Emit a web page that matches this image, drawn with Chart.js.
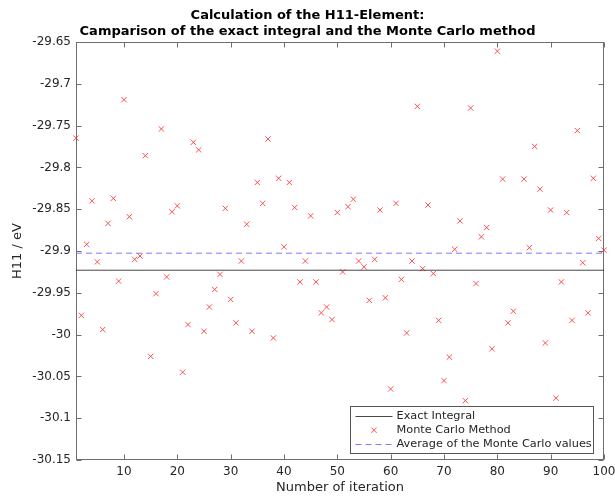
<!DOCTYPE html>
<html>
<head>
<meta charset="utf-8">
<script src="https://cdn.jsdelivr.net/npm/chart.js@4"></script>
<style>
  html, body { margin: 0; padding: 0; background: #fff; }
  #wrap { width: 615px; height: 500px; }
</style>
</head>
<body>
<div id="wrap"><canvas id="h11Chart" width="615" height="500"></canvas></div>
<script>
// values
const iterations = Array.from({ length: 100 }, (_, i) => i + 1);
const mcValues = [
  -29.765, -29.977, -29.892, -29.840, -29.913, -29.994, -29.867, -29.837, -29.936, -29.719,
  -29.859, -29.910, -29.906, -29.786, -30.026, -29.951, -29.754, -29.931, -29.853, -29.846,
  -30.045, -29.988, -29.770, -29.779, -29.996, -29.967, -29.946, -29.928, -29.849, -29.958,
  -29.986, -29.912, -29.868, -29.996, -29.818, -29.843, -29.766, -30.004, -29.813, -29.895,
  -29.818, -29.848, -29.937, -29.912, -29.858, -29.937, -29.974, -29.967, -29.982, -29.854,
  -29.925, -29.847, -29.838, -29.912, -29.919, -29.959, -29.910, -29.851, -29.956, -30.065,
  -29.843, -29.934, -29.998, -29.912, -29.727, -29.921, -29.845, -29.927, -29.983, -30.055,
  -30.027, -29.898, -29.864, -30.079, -29.729, -29.939, -29.883, -29.872, -30.017, -29.661,
  -29.814, -29.986, -29.972, -30.110, -29.814, -29.896, -29.775, -29.826, -30.010, -29.851,
  -30.076, -29.937, -29.854, -29.983, -29.756, -29.914, -29.974, -29.813, -29.885, -29.899
];
const exactIntegral = -29.923;
const mcAverage = -29.9026;
const xRange = [1, 100];
const yRange = [-30.15, -29.65];
const xTicks = [10, 20, 30, 40, 50, 60, 70, 80, 90, 100];
const yTicks = [-30.15, -30.1, -30.05, -30, -29.95, -29.9, -29.85, -29.8, -29.75, -29.7, -29.65];

const FONT = "'DejaVu Sans', sans-serif";
const TXT = '#262626';
const AXIS = '#6e6e6e';

// axes box with inward ticks, like matlab
const boxPlugin = {
  id: 'box',
  beforeDatasetsDraw(chart) {
    const { ctx, chartArea: a, scales } = chart;
    const L = Math.round(a.left) + 0.5, R = Math.round(a.right) - 0.5;
    const T = Math.round(a.top) + 0.5, B = Math.round(a.bottom) - 0.5;
    ctx.save();
    ctx.strokeStyle = AXIS;
    ctx.lineWidth = 1;
    ctx.strokeRect(L, T, R - L, B - T);
    ctx.beginPath();
    xTicks.forEach(v => {
      const px = Math.round(scales.x.getPixelForValue(v)) + 0.5;
      ctx.moveTo(px, B); ctx.lineTo(px, B - 5);
      ctx.moveTo(px, T); ctx.lineTo(px, T + 5);
    });
    yTicks.forEach(v => {
      const py = Math.round(scales.y.getPixelForValue(v)) + 0.5;
      ctx.moveTo(L, py); ctx.lineTo(L + 5, py);
      ctx.moveTo(R, py); ctx.lineTo(R - 5, py);
    });
    ctx.stroke();
    ctx.restore();
  }
};

// legend box inside the axes, bottom right
const insideLegend = {
  id: 'insideLegend',
  afterDatasetsDraw(chart) {
    const { ctx, chartArea: a } = chart;
    const w = 243, h = 47;
    const x0 = Math.round(a.right - 11 - w) + 0.5;
    const y0 = Math.round(a.bottom - 7 - h) + 0.5;
    ctx.save();
    ctx.fillStyle = '#fff';
    ctx.fillRect(x0, y0, w, h);
    ctx.strokeStyle = '#555';
    ctx.lineWidth = 1;
    ctx.strokeRect(x0, y0, w, h);
    ctx.font = '11.3px ' + FONT;
    ctx.textBaseline = 'middle';
    chart.data.datasets.forEach((ds, i) => {
      const cy = y0 + 9.5 + i * 14.2;
      const sx = x0 + 5, ex = x0 + 42;
      ctx.strokeStyle = ds.borderColor;
      ctx.lineWidth = 1;
      if (ds.showLine) {
        ctx.setLineDash(ds.borderDash || []);
        ctx.beginPath();
        ctx.moveTo(sx, Math.round(cy) + 0.5);
        ctx.lineTo(ex, Math.round(cy) + 0.5);
        ctx.stroke();
        ctx.setLineDash([]);
      } else {
        const r = 2.7, cx = (sx + ex) / 2;
        ctx.beginPath();
        ctx.moveTo(cx - r, cy - r); ctx.lineTo(cx + r, cy + r);
        ctx.moveTo(cx + r, cy - r); ctx.lineTo(cx - r, cy + r);
        ctx.stroke();
      }
      ctx.fillStyle = TXT;
      ctx.fillText(ds.label, x0 + 46, cy);
    });
    ctx.restore();
  }
};

const ctx = document.getElementById('h11Chart').getContext('2d');
new Chart(ctx, {
  type: 'scatter',
  data: {
    datasets: [
      {
        label: 'Exact Integral',
        data: xRange.map(x => ({ x: x, y: exactIntegral })),
        showLine: true,
        borderColor: 'rgba(40,40,40,0.85)',
        borderWidth: 1,
        pointRadius: 0
      },
      {
        label: 'Monte Carlo Method',
        data: iterations.map((x, i) => ({ x: x, y: mcValues[i] })),
        showLine: false,
        pointStyle: 'crossRot',
        pointRadius: 3.8,
        borderColor: 'rgba(255,40,40,0.8)',
        backgroundColor: 'rgba(255,40,40,0.8)',
        pointBorderWidth: 1,
        clip: false
      },
      {
        label: 'Average of the Monte Carlo values',
        data: xRange.map(x => ({ x: x, y: mcAverage })),
        showLine: true,
        borderColor: 'rgba(110,110,255,0.9)',
        borderDash: [6, 4],
        borderWidth: 1,
        pointRadius: 0
      }
    ]
  },
  options: {
    responsive: false,
    animation: false,
    layout: { padding: 0 },
    scales: {
      x: {
        type: 'linear',
        min: xRange[0],
        max: xRange[1],
        afterBuildTicks: s => { s.ticks = xTicks.map(v => ({ value: v })); },
        afterFit: s => { s.height = 40; s.paddingLeft = 0; s.paddingRight = 11; },
        grid: { display: false, drawTicks: false },
        border: { display: false },
        ticks: { padding: 4.5, color: TXT, font: { family: FONT, size: 12 }, maxRotation: 0, autoSkip: false },
        title: {
          display: true,
          text: 'Number of iteration',
          color: TXT,
          font: { family: FONT, size: 13 },
          padding: { top: 0, bottom: 4.2 }
        }
      },
      y: {
        min: yRange[0],
        max: yRange[1],
        afterBuildTicks: s => { s.ticks = yTicks.map(v => ({ value: v })); },
        afterFit: s => { s.width = 76; },
        grid: { display: false, drawTicks: false },
        border: { display: false },
        ticks: { padding: 5, color: TXT, font: { family: FONT, size: 12 }, autoSkip: false, callback: v => String(v) },
        title: {
          display: true,
          text: 'H11 / eV',
          color: TXT,
          font: { family: FONT, size: 13 },
          padding: { top: 10.2, bottom: 0 }
        }
      }
    },
    plugins: {
      legend: { display: false },
      tooltip: { enabled: false },
      title: {
        display: true,
        text: ['Calculation of the H11-Element:', 'Camparison of the exact integral and the Monte Carlo method'],
        color: '#000',
        font: { family: FONT, size: 13, weight: 'bold', lineHeight: 16 / 13 },
        padding: { top: 7.7, bottom: 2.3 }
      }
    }
  },
  plugins: [boxPlugin, insideLegend]
});
</script>
</body>
</html>
